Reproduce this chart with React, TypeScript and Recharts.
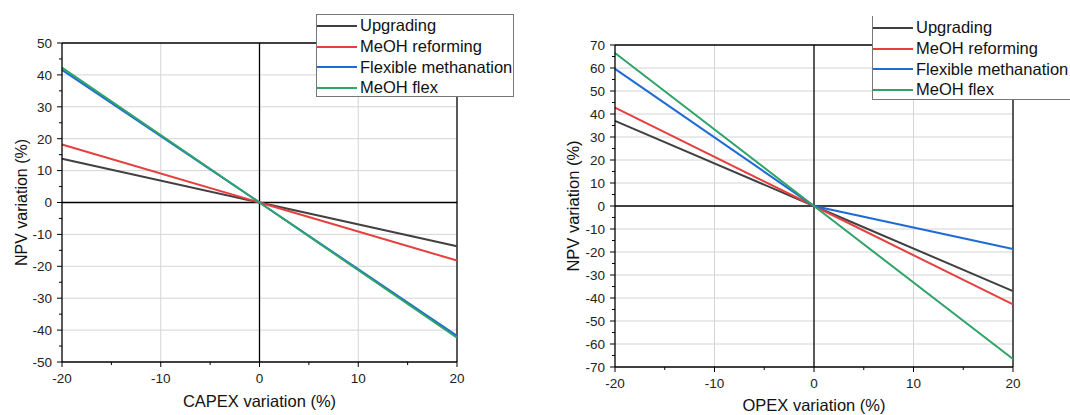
import React from 'react';
import { LineChart, Line, XAxis, YAxis, CartesianGrid, ReferenceLine, Legend, Label } from 'recharts';

// shared x positions (% variation)
const xValues = [-20, 0, 20];

// CAPEX sensitivity (NPV variation %)
const capexUpgrading = [13.7, 0, -13.7];
const capexReforming = [18.2, 0, -18.2];
const capexFlexMeth = [41.6, 0, -41.8];
const capexMeohFlex = [42.3, 0, -42.4];

// OPEX sensitivity (NPV variation %)
const opexUpgrading = [37.0, 0, -37.0];
const opexReforming = [42.8, 0, -42.8];
const opexFlexMeth = [59.6, 0, -18.7];
const opexMeohFlex = [66.5, 0, -66.5];

const seriesNames = ['Upgrading', 'MeOH reforming', 'Flexible methanation', 'MeOH flex'];
const seriesKeys = ['upgrading', 'reforming', 'flexMeth', 'meohFlex'];
const seriesColors = ['#404040', '#e5403f', '#1f6bd6', '#2fa368'];

const xTicks = [-20, -15, -10, -5, 0, 5, 10, 15, 20];
const capexYTicks = [-50, -45, -40, -35, -30, -25, -20, -15, -10, -5, 0, 5, 10, 15, 20, 25, 30, 35, 40, 45, 50];
const opexYTicks = [-70, -65, -60, -55, -50, -45, -40, -35, -30, -25, -20, -15, -10, -5, 0, 5, 10, 15, 20, 25, 30, 35, 40, 45, 50, 55, 60, 65, 70];

const FONT = '"Liberation Sans", Arial, sans-serif';

const buildRows = (a: number[], b: number[], c: number[], d: number[]) =>
  xValues.map((x, i) => ({ x, upgrading: a[i], reforming: b[i], flexMeth: c[i], meohFlex: d[i] }));

const capexData = buildRows(capexUpgrading, capexReforming, capexFlexMeth, capexMeohFlex);
const opexData = buildRows(opexUpgrading, opexReforming, opexFlexMeth, opexMeohFlex);

const YTick = (props: any) => {
  const { x, y, payload } = props;
  const major = payload.value % 10 === 0;
  return (
    <g>
      <line x1={x} x2={x - (major ? 5 : 3)} y1={y} y2={y} stroke="#000" strokeWidth={1} />
      {major && (
        <text x={x - 10} y={y} dy={4.8} textAnchor="end" fontSize={13.5} fill="#222" fontFamily={FONT}>
          {payload.value}
        </text>
      )}
    </g>
  );
};

const XTick = (props: any) => {
  const { x, y, payload } = props;
  const major = payload.value % 10 === 0;
  return (
    <g>
      <line x1={x} x2={x} y1={y} y2={y + (major ? 5 : 3)} stroke="#000" strokeWidth={1} />
      {major && (
        <text x={x} y={y + 21} textAnchor="middle" fontSize={13.5} fill="#222" fontFamily={FONT}>
          {payload.value}
        </text>
      )}
    </g>
  );
};

const LegendBox = ({ width, height, padTop, full }: { width: number; height: number; padTop: number; full: boolean }) => (
  <div
    style={{
      width,
      height,
      boxSizing: 'border-box',
      background: '#fff',
      borderLeft: '1px solid #777',
      borderBottom: '1px solid #777',
      borderTop: full ? '1px solid #777' : 'none',
      borderRight: full ? '1px solid #777' : 'none',
      paddingTop: padTop,
      fontFamily: FONT,
    }}
  >
    {seriesNames.map((name, i) => (
      <div key={name} style={{ display: 'flex', alignItems: 'center', height: 20.7 }}>
        <div style={{ width: 40, height: 0, borderTop: `2.5px solid ${seriesColors[i]}` }} />
        <span style={{ marginLeft: 3, fontSize: 16.5, color: '#111', whiteSpace: 'nowrap' }}>{name}</span>
      </div>
    ))}
  </div>
);

type PanelProps = {
  data: any[];
  yTicks: number[];
  yMax: number;
  xTitle: string;
  margin: { top: number; right: number; bottom: number; left: number };
  yAxisWidth: number;
  xAxisHeight: number;
  yTitleX: number;
  yTitleSize: number;
  xTitleY: number;
  legendPos: { left: number; top: number; width: number; height: number; padTop: number; full: boolean };
};

const Panel = (p: PanelProps) => {
  const majorY = p.yTicks.filter((v) => v % 10 === 0 && v !== 0 && Math.abs(v) !== p.yMax);
  return (
    <LineChart width={535} height={415} data={p.data} margin={p.margin}>
      <CartesianGrid stroke="#d4d4d4" strokeWidth={1} horizontalValues={majorY} verticalValues={[-10, 10]} />
      <XAxis
        dataKey="x"
        type="number"
        domain={[-20, 20]}
        ticks={xTicks}
        interval={0}
        tickSize={0}
        tickMargin={0}
        tickLine={false}
        tick={<XTick />}
        height={p.xAxisHeight}
        axisLine={{ stroke: '#000', strokeWidth: 1.3 }}
      >
        <Label
          content={(lp: any) => {
            const vb = lp.viewBox;
            return (
              <text x={vb.x + vb.width / 2} y={p.xTitleY} textAnchor="middle" fontSize={16.5} fill="#111" fontFamily={FONT}>
                {p.xTitle}
              </text>
            );
          }}
        />
      </XAxis>
      <YAxis
        type="number"
        domain={[-p.yMax, p.yMax]}
        ticks={p.yTicks}
        interval={0}
        tickSize={0}
        tickMargin={0}
        tickLine={false}
        tick={<YTick />}
        width={p.yAxisWidth}
        axisLine={{ stroke: '#000', strokeWidth: 1.3 }}
      >
        <Label
          content={(lp: any) => {
            const vb = lp.viewBox;
            const cy = vb.y + vb.height / 2;
            return (
              <text
                x={p.yTitleX}
                y={cy}
                transform={`rotate(-90 ${p.yTitleX} ${cy})`}
                textAnchor="middle"
                dominantBaseline="central"
                fontSize={p.yTitleSize}
                fill="#111"
                fontFamily={FONT}
              >
                NPV variation (%)
              </text>
            );
          }}
        />
      </YAxis>
      <ReferenceLine y={0} stroke="#000" strokeWidth={1.3} />
      <ReferenceLine x={0} stroke="#000" strokeWidth={1.3} />
      <ReferenceLine y={p.yMax} stroke="#000" strokeWidth={1.3} />
      <ReferenceLine x={20} stroke="#000" strokeWidth={1.3} />
      {seriesKeys.map((k, i) => (
        <Line
          key={k}
          type="linear"
          dataKey={k}
          name={seriesNames[i]}
          stroke={seriesColors[i]}
          strokeWidth={2}
          dot={false}
          isAnimationActive={false}
        />
      ))}
      <Legend
        layout="vertical"
        align="center"
        verticalAlign="middle"
        wrapperStyle={{ position: 'absolute', left: p.legendPos.left, top: p.legendPos.top, width: p.legendPos.width, height: p.legendPos.height }}
        content={() => (
          <LegendBox width={p.legendPos.width} height={p.legendPos.height} padTop={p.legendPos.padTop} full={p.legendPos.full} />
        )}
      />
    </LineChart>
  );
};

export default function App() {
  return (
    <div style={{ position: 'absolute', left: 0, top: 0, width: 1070, height: 415, overflow: 'hidden', background: '#fff' }}>
      <div style={{ position: 'absolute', left: 0, top: 0 }}>
        <Panel
          data={capexData}
          yTicks={capexYTicks}
          yMax={50}
          xTitle="CAPEX variation (%)"
          margin={{ top: 43, right: 78, bottom: 0, left: 0 }}
          yAxisWidth={62}
          xAxisHeight={53}
          yTitleX={21}
          yTitleSize={16}
          xTitleY={407}
          legendPos={{ left: 316, top: 14, width: 198, height: 83, padTop: 0.5, full: true }}
        />
      </div>
      <div style={{ position: 'absolute', left: 535, top: 0 }}>
        <Panel
          data={opexData}
          yTicks={opexYTicks}
          yMax={70}
          xTitle="OPEX variation (%)"
          margin={{ top: 45, right: 57, bottom: 0, left: 0 }}
          yAxisWidth={80}
          xAxisHeight={48}
          yTitleX={38}
          yTitleSize={16.5}
          xTitleY={411}
          legendPos={{ left: 337, top: 16, width: 205, height: 84, padTop: 1.5, full: false }}
        />
      </div>
    </div>
  );
}
